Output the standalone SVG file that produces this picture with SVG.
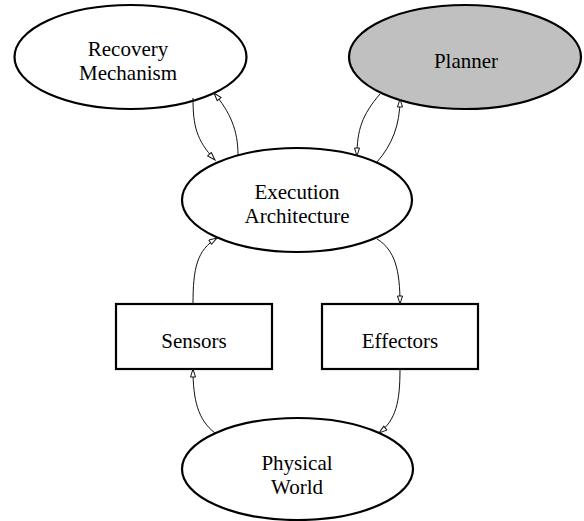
<svg xmlns="http://www.w3.org/2000/svg" width="584" height="521" viewBox="0 0 584 521">
<style>
.n{fill:#fff;stroke:#000;stroke-width:2.2}
.p{fill:#c0c0c0;stroke:#000;stroke-width:2.2}
.t{font-family:"Liberation Serif","Times New Roman",serif;font-size:21px;fill:#000;text-anchor:middle}
.e{fill:none;stroke:#111;stroke-width:1;marker-end:url(#ah)}
</style>
<defs>
<marker id="ah" markerUnits="userSpaceOnUse" markerWidth="12" markerHeight="8" refX="9" refY="3" orient="auto">
<path d="M1,0.5 L9,3 L1,5.5 Z" fill="#fff" stroke="#111" stroke-width="1"/>
</marker>
</defs>
<g id="recovery">
<ellipse class="n" cx="130.5" cy="57" rx="116" ry="52"/>
<text class="t" x="128" y="56">Recovery</text>
<text class="t" x="128" y="79.5">Mechanism</text>
</g>
<g id="planner">
<ellipse class="p" cx="465" cy="57" rx="116" ry="52"/>
<text class="t" x="466" y="68">Planner</text>
</g>
<g id="execution">
<ellipse class="n" cx="297" cy="200" rx="115" ry="52"/>
<text class="t" x="297" y="199">Execution</text>
<text class="t" x="297" y="222.5">Architecture</text>
</g>
<g id="sensors">
<rect class="n" x="116" y="304" width="156" height="65"/>
<text class="t" x="194" y="348">Sensors</text>
</g>
<g id="effectors">
<rect class="n" x="322" y="304" width="156" height="65"/>
<text class="t" x="400" y="348">Effectors</text>
</g>
<g id="physical">
<ellipse class="n" cx="297.5" cy="469" rx="115.5" ry="51"/>
<text class="t" x="297" y="470">Physical</text>
<text class="t" x="297" y="493.5">World</text>
</g>
<g id="connectors">
<path class="e" d="M193,98 C193,125 196,140 215,160"/>
<path class="e" d="M238,155 C238,130 230,112 214,93"/>
<path class="e" d="M380,94 C362,115 357,130 357,156"/>
<path class="e" d="M377,162 C392,145 400,125 400,99"/>
<path class="e" d="M193,304 C193,268 197,250 217,238"/>
<path class="e" d="M377,239 C395,250 400,270 400,304"/>
<path class="e" d="M215,433 C198,420 193,400 193,369"/>
<path class="e" d="M400,369 C400,402 396,420 379,433"/>
</g>
</svg>
